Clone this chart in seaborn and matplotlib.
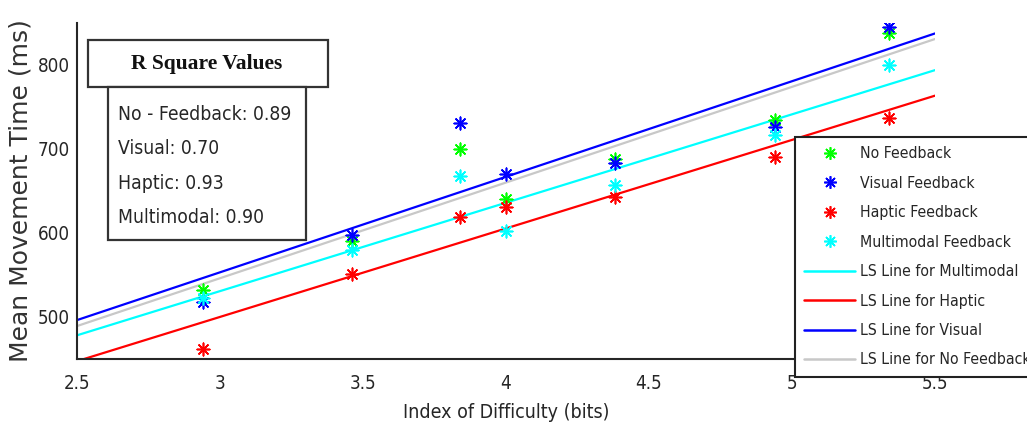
import numpy as np
import pandas as pd
import matplotlib
matplotlib.use("Agg")
import matplotlib.pyplot as plt
import seaborn as sns
from matplotlib import font_manager
from matplotlib.patches import Rectangle
from matplotlib.lines import Line2D

# index of difficulty (bits) for the seven targets
index_of_difficulty = [2.94, 3.46, 3.84, 4.00, 4.38, 4.94, 5.34]

# mean movement time (ms) per condition
mt_no_feedback = [532, 590, 700, 641, 688, 734, 838]
mt_visual = [518, 598, 731, 670, 683, 726, 845]
mt_haptic = [462, 551, 619, 631, 643, 690, 737]
mt_multimodal = [523, 580, 668, 602, 657, 717, 800]

conditions = ["No Feedback", "Visual Feedback", "Haptic Feedback", "Multimodal Feedback"]
short_names = ["No Feedback", "Visual", "Haptic", "Multimodal"]
r_square = ["No - Feedback: 0.89", "Visual: 0.70", "Haptic: 0.93", "Multimodal: 0.90"]

x_ticks = [2.5, 3, 3.5, 4, 4.5, 5, 5.5]
y_ticks = [500, 600, 700, 800]

point_colors = {"No Feedback": "#00ff00", "Visual Feedback": "#0000ff",
                "Haptic Feedback": "#ff0000", "Multimodal Feedback": "#00ffff"}
line_colors = {"Multimodal": "#00ffff", "Haptic": "#ff0000",
               "Visual": "#0000ff", "No Feedback": "#c8c8c8"}

df = pd.DataFrame({
    "ID": index_of_difficulty * 4,
    "MT": mt_no_feedback + mt_visual + mt_haptic + mt_multimodal,
    "cond": [c for c in conditions for _ in index_of_difficulty],
})
df["short"] = df["cond"].map(dict(zip(conditions, short_names)))

sns.set_style("white")
plt.rcParams["font.family"] = ["Liberation Sans", "DejaVu Sans"]
text_col = "#262626"


def find_narrow_font():
    # the original figure uses a narrow sans face; use one if the system has it
    good = []
    for f in font_manager.fontManager.ttflist:
        narrow = ("Narrow" in f.name or "Condensed" in f.name or
                  str(f.stretch) in ("condensed", "semi-condensed", "extra-condensed"))
        if narrow and f.style == "normal" and f.weight in (400, "normal", "regular"):
            good.append(f)
    rank = ["Liberation Sans Narrow", "DejaVu Sans", "Roboto", "Noto Sans", "Open Sans"]
    good.sort(key=lambda f: next((i for i, r in enumerate(rank) if f.name.startswith(r)), 99))
    if good:
        return font_manager.FontProperties(fname=good[0].fname), True
    return font_manager.FontProperties(family=["Liberation Sans", "DejaVu Sans"]), False


narrow_fp, has_narrow = find_narrow_font()
scale = 1.0 if has_narrow else 0.82


def fp(size):
    p = narrow_fp.copy()
    p.set_size(size * scale)
    return p


fig = plt.figure(figsize=(10.27, 4.32), dpi=100)
ax = fig.add_axes([77 / 1027, 1 - 359 / 432, (935 - 77) / 1027, (359 - 23) / 432])
ax.set_xlim(2.5, 5.5)
ax.set_ylim(450, 850)

# least squares lines
handles_lines = []
for name in ["No Feedback", "Visual", "Haptic", "Multimodal"][::-1]:
    sub = df[df["short"] == name]
    sns.regplot(data=sub, x="ID", y="MT", ax=ax, scatter=False, ci=None,
                truncate=False, color=line_colors[name], line_kws=dict(lw=1.6))
    handles_lines.append(Line2D([], [], color=line_colors[name], lw=1.8))

# measured points
star = (8, 2, 0)
handles_pts = []
for cond in conditions:
    sub = df[df["cond"] == cond]
    sns.scatterplot(data=sub, x="ID", y="MT", ax=ax, marker=star, s=80,
                    color=point_colors[cond], linewidth=1.2, legend=False, zorder=3)
    handles_pts.append(Line2D([], [], ls="none", marker=star, markersize=9,
                              mew=1.2, color=point_colors[cond]))

ax.set_xlim(2.5, 5.5)
ax.set_ylim(450, 850)
ax.set_xticks(x_ticks)
ax.set_xticklabels(["2.5", "3", "3.5", "4", "4.5", "5", "5.5"])
ax.set_yticks(y_ticks)
ax.tick_params(axis="x", direction="in", length=8, width=1.2, color=text_col,
               labelcolor=text_col, pad=11)
ax.tick_params(axis="y", direction="in", length=4, width=1.2, color=text_col,
               labelcolor=text_col, pad=5)
for lab in ax.get_xticklabels() + ax.get_yticklabels():
    lab.set_fontproperties(fp(13.5))
for s in ["top", "right"]:
    ax.spines[s].set_visible(False)
for s in ["left", "bottom"]:
    ax.spines[s].set_color(text_col)
    ax.spines[s].set_linewidth(1.5)

ax.set_xlabel("Index of Difficulty (bits)", fontproperties=fp(14), color=text_col, labelpad=7)
ax.set_ylabel("Mean Movement Time (ms)", fontsize=18, color="#333333", labelpad=4,
              family=["DejaVu Sans"])

leg_labels = conditions + ["LS Line for " + n for n in ["Multimodal", "Haptic", "Visual", "No Feedback"]]
leg = ax.legend(handles_pts + handles_lines, leg_labels, loc="upper left",
                bbox_to_anchor=(795 / 1027, 1 - 137 / 432), bbox_transform=fig.transFigure,
                prop=fp(11.3), frameon=True, fancybox=False, edgecolor="#222222",
                handlelength=3.2, handletextpad=0.35, labelspacing=0.92,
                borderpad=0.6, borderaxespad=0, framealpha=1)
leg.get_frame().set_linewidth(1.5)
leg.set_zorder(10)
for t in leg.get_texts():
    t.set_color(text_col)


# R square boxes
def px_rect(x0, y0, x1, y1, lw):
    r = Rectangle((x0 / 1027, 1 - y1 / 432), (x1 - x0) / 1027, (y1 - y0) / 432,
                  transform=fig.transFigure, facecolor="white", edgecolor="#333333",
                  lw=lw, zorder=5)
    fig.add_artist(r)


px_rect(88, 40, 328, 87, 1.6)
fig.text(207 / 1027, 1 - 64 / 432, "R Square Values", ha="center", va="center",
         fontsize=15.5, fontweight="bold", family=["Liberation Serif", "DejaVu Serif"],
         color="#111111", zorder=6)
px_rect(108, 87, 306, 240, 1.6)
for i, txt in enumerate(r_square):
    fig.text(118 / 1027, 1 - (114 + 34.5 * i) / 432, txt, ha="left", va="center",
             fontproperties=fp(13.9), color=text_col, zorder=6)

fig.savefig("out.png", dpi=100)
